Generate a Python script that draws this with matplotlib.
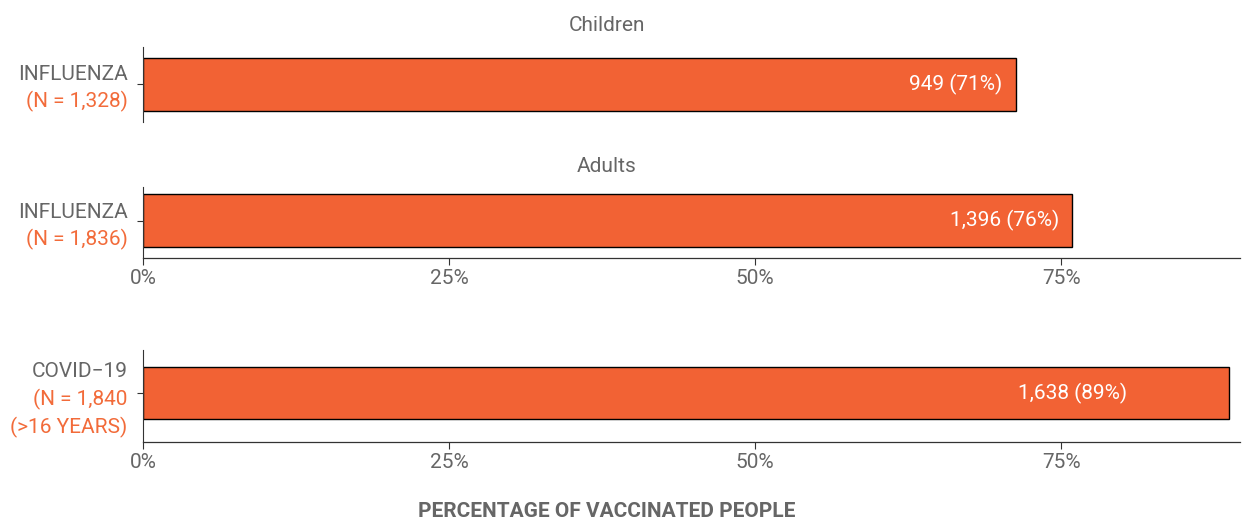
import matplotlib.pyplot as plt
import matplotlib.transforms as mtransforms
from matplotlib import font_manager

# data
panel_titles = ["Children", "Adults", None]
categories = ["INFLUENZA", "INFLUENZA", "COVID\u221219"]
sample_notes = [["(N = 1,328)"], ["(N = 1,836)"], ["(N = 1,840", "(>16 YEARS)"]]
percentages = [71.3, 75.9, 88.7]
value_labels = ["949 (71%)", "1,396 (76%)", "1,638 (89%)"]
xticks = [0, 25, 50, 75]
xtick_labels = ["0%", "25%", "50%", "75%"]
xlabel = "PERCENTAGE OF VACCINATED PEOPLE"

names = {f.name for f in font_manager.fontManager.ttflist}
family = ["Liberation Sans Narrow", "Roboto", "DejaVu Sans"]
family = [f for f in family if f in names] or ["DejaVu Sans"]
plt.rcParams["font.family"] = family

GRAY = "#666666"
ORANGE = "#F26B3A"
BAR = "#F26234"

fig = plt.figure(figsize=(12.43, 5.25), dpi=100)

# axes boxes in figure fraction: left, bottom, width, height
boxes = [
    (0.115, 0.7676, 0.8826, 0.1429),
    (0.115, 0.5086, 0.8826, 0.1352),
    (0.115, 0.1581, 0.8826, 0.1752),
]
bar_heights = [0.71, 0.75, 0.57]
centers = [0.0, -0.028, -0.033]
label_pad = [1.1, 1.1, 8.3]
show_x = [False, True, True]

for i in range(3):
    ax = fig.add_axes(boxes[i])
    ax.barh([0], [percentages[i]], height=bar_heights[i], color=BAR,
            edgecolor="black", linewidth=1.0)
    ax.set_xlim(0, 89.6)
    ax.set_ylim(-0.5 + centers[i], 0.5 + centers[i])
    ax.set_yticks([0])
    ax.set_yticklabels([""])
    ax.tick_params(axis="y", length=4, width=0.8, color="#333333")
    for s in ["top", "right"]:
        ax.spines[s].set_visible(False)
    ax.spines["left"].set_color("#333333")
    ax.spines["left"].set_linewidth(0.8)
    if show_x[i]:
        ax.set_xticks(xticks)
        ax.set_xticklabels(xtick_labels, fontsize=15, color=GRAY)
        ax.tick_params(axis="x", length=5, width=0.8, color="#333333", pad=3)
        ax.spines["bottom"].set_color("#333333")
        ax.spines["bottom"].set_linewidth(0.9)
    else:
        ax.set_xticks([])
        ax.spines["bottom"].set_visible(False)

    # value label inside bar
    ax.text(percentages[i] - label_pad[i], 0, value_labels[i], ha="right",
            va="center", color="white", fontsize=15)

    # category label, gray then orange lines, centred on the axes
    lines = [(categories[i], GRAY)] + [(t, ORANGE) for t in sample_notes[i]]
    n = len(lines)
    step = 20
    for k, (txt, col) in enumerate(lines):
        dy = ((n - 1) / 2 - k) * step
        tr = mtransforms.offset_copy(ax.transAxes, fig=fig,
                                     x=-11, y=dy - 2.5, units="points")
        ax.text(0, 0.5, txt, transform=tr, ha="right", va="center",
                color=col, fontsize=15)

    if panel_titles[i]:
        fig.text(0.488, boxes[i][1] + boxes[i][3] + 0.04, panel_titles[i],
                 ha="center", va="center", color=GRAY, fontsize=15)

fig.text(0.488, 0.025, xlabel, ha="center", va="center", color=GRAY,
         fontsize=15, fontweight="bold")

fig.savefig("out.png", dpi=100)
